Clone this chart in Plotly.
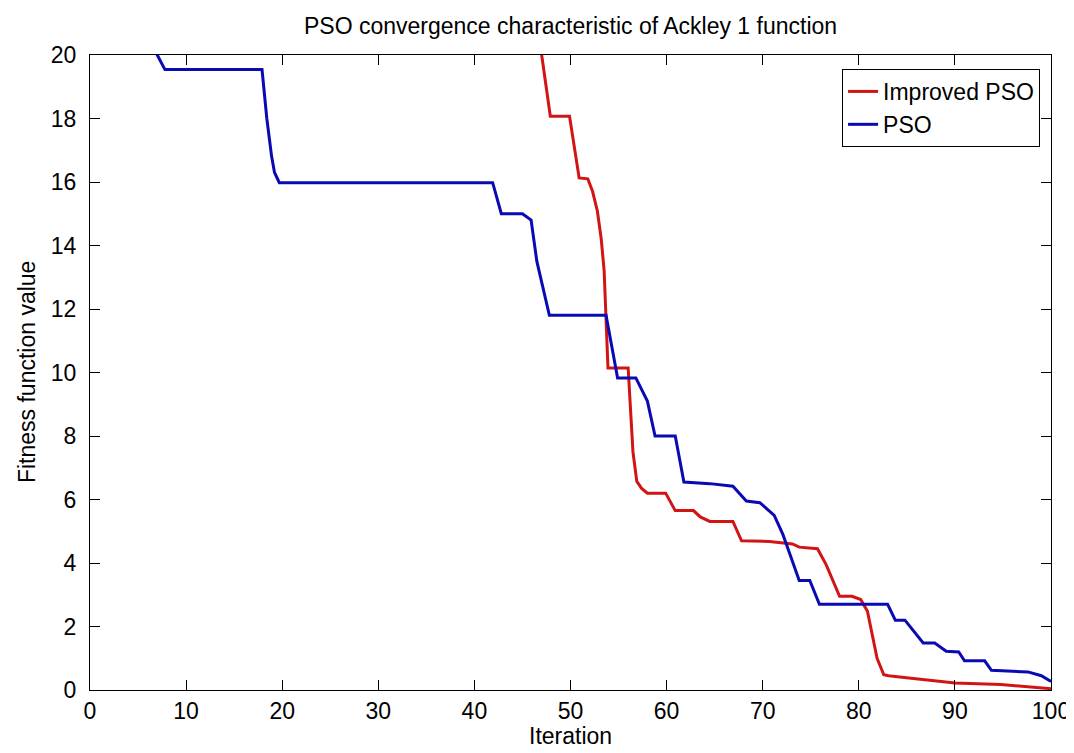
import plotly.graph_objects as go

# PSO (blue) step curve
pso_x = [1, 6, 7, 7.8, 17.9, 18.4, 18.9, 19.2, 19.7, 41.9, 42.8, 45.0, 45.9, 46.5, 47.8,
         53.7, 54.9, 56.8, 58.0, 58.8, 60.9, 61.8, 64.5, 66.9, 68.3, 69.7, 71.2, 72.1,
         73.1, 73.8, 74.9, 75.9, 83.0, 83.8, 84.8, 86.7, 87.9, 89.1, 90.4, 91.0, 93.1,
         93.8, 97.6, 99.0, 100]
pso_y = [23.0, 20.6, 20.0, 19.54, 19.54, 18.0, 16.8, 16.3, 15.98, 15.98, 15.0, 15.0, 14.8, 13.5, 11.8,
         11.8, 9.83, 9.83, 9.1, 8.0, 8.0, 6.55, 6.5, 6.42, 5.95, 5.9, 5.5, 4.9,
         4.05, 3.45, 3.45, 2.7, 2.7, 2.2, 2.2, 1.48, 1.48, 1.22, 1.2, 0.92, 0.92,
         0.62, 0.57, 0.45, 0.27]

# Improved PSO (red) step curve
ipso_x = [1, 46, 47.0, 47.5, 47.9, 49.9, 50.4, 50.9, 51.8, 52.3, 52.8, 53.2, 53.5, 53.7, 53.9,
          56.0, 56.2, 56.5, 56.9, 57.4, 58.0, 59.9, 60.9, 62.8, 63.5, 64.5, 66.9, 67.8,
          70.7, 73.1, 73.8, 75.7, 76.6, 77.3, 78.0, 79.3, 80.2, 80.9, 81.4, 81.9, 82.6,
          83.1, 85.2, 87.9, 90.0, 94.8, 98.3, 100]
ipso_y = [30.0, 22.0, 20.0, 18.96, 18.07, 18.07, 17.17, 16.13, 16.1, 15.7, 15.08, 14.2, 13.2, 11.8, 10.14,
          10.14, 9.0, 7.5, 6.57, 6.35, 6.2, 6.2, 5.65, 5.65, 5.45, 5.31, 5.31, 4.7,
          4.68, 4.6, 4.5, 4.45, 3.95, 3.42, 2.95, 2.95, 2.85, 2.48, 1.74, 1.0, 0.48,
          0.45, 0.38, 0.29, 0.22, 0.17, 0.08, 0.04]

x_ticks = [0, 10, 20, 30, 40, 50, 60, 70, 80, 90, 100]
y_ticks = [0, 2, 4, 6, 8, 10, 12, 14, 16, 18, 20]

FONT = "Liberation Sans, Arial, Helvetica, sans-serif"
FS = 23

fig = go.Figure()
fig.add_trace(go.Scatter(x=ipso_x, y=ipso_y, mode="lines", name="Improved PSO",
                         line=dict(color="rgb(210,20,20)", width=3)))
fig.add_trace(go.Scatter(x=pso_x, y=pso_y, mode="lines", name="PSO",
                         line=dict(color="rgb(10,10,180)", width=3)))

axis_common = dict(showline=True, linecolor="black", linewidth=1, mirror="ticks",
                   ticks="inside", ticklen=10, tickcolor="black", showgrid=False,
                   zeroline=False, tickfont=dict(family=FONT, size=FS, color="black"))

fig.update_layout(
    width=1074, height=753,
    margin=dict(l=82, r=24, t=47, b=71),
    paper_bgcolor="white", plot_bgcolor="white",
    font=dict(family=FONT, size=FS, color="black"),
    xaxis=dict(range=[0, 100], tickvals=x_ticks, ticktext=[str(v) for v in x_ticks],
               ticklabelstandoff=0, **axis_common),
    yaxis=dict(range=[0, 20], tickvals=y_ticks, ticktext=[str(v) for v in y_ticks],
               ticklabelstandoff=8, **axis_common),
    legend=dict(x=0.9886, y=0.978, xanchor="right", yanchor="top",
                bgcolor="white", bordercolor="black", borderwidth=1,
                font=dict(family=FONT, size=FS, color="black"),
                tracegroupgap=0),
    showlegend=True,
    annotations=[
        dict(text="PSO convergence characteristic of Ackley 1 function", xref="paper", yref="paper",
             x=0.5, y=1.0457, xanchor="center", yanchor="middle", showarrow=False,
             font=dict(family=FONT, size=FS, color="black")),
        dict(text="Iteration", xref="paper", yref="paper", x=0.5, y=-0.072,
             xanchor="center", yanchor="middle", showarrow=False,
             font=dict(family=FONT, size=FS, color="black")),
        dict(text="Fitness function value", xref="paper", yref="paper", x=-0.066, y=0.5,
             xanchor="center", yanchor="middle", showarrow=False, textangle=-90,
             font=dict(family=FONT, size=FS, color="black")),
    ],
)

fig.write_html("out.html")
